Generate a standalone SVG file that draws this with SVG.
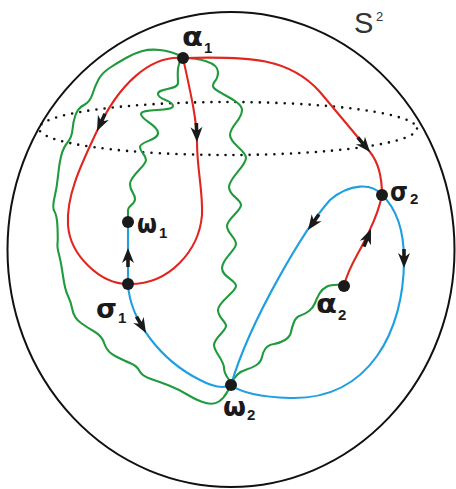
<svg xmlns="http://www.w3.org/2000/svg" xmlns:xlink="http://www.w3.org/1999/xlink" width="456" height="489" viewBox="0 0 456 489">
<style>
.c{fill:none;stroke-width:2.1;stroke-linecap:round;stroke-linejoin:round}
.r{stroke:#e0261e}.g{stroke:#1f9a3c}.b{stroke:#1f9fe0}
.dot{fill:#1a1a1a}
.lab{font-family:"DejaVu Sans","Liberation Sans",sans-serif;font-weight:bold;fill:#1a1a1a;font-size:26px}
.sub{font-family:"Liberation Sans",Arial,sans-serif;font-weight:bold;fill:#1a1a1a;font-size:15px}
.ah{fill:#1a1a1a}
</style>
<defs>
<path id="ah" d="M0,0 L-15,-6 L-10.5,0 L-15,6 Z M-10,-1.8 L-19,-1.8 L-19,1.8 L-10,1.8 Z"/>
</defs>
<g id="sphere">
<ellipse cx="231" cy="249.5" rx="223.5" ry="237.5" fill="none" stroke="#111" stroke-width="2"/>
<ellipse cx="228" cy="128.5" rx="189" ry="26.5" fill="none" stroke="#111" stroke-width="2.6" stroke-linecap="round" stroke-dasharray="0 8.2"/>
<text x="354" y="33" font-family="Liberation Sans,Arial,sans-serif" font-size="29" fill="#333">S</text>
<text x="376" y="21" font-family="Liberation Sans,Arial,sans-serif" font-size="13" fill="#333">2</text>
</g>
<g id="connectors">
<path class="c g" d="M181,56 Q170,51 160,50 T142.5,51 T126,58 T109.5,68 T98.5,79.5 T92.5,94 T84,105 T75.5,115 T72.5,129.5 T67.5,142.5 T61,156.5 T58,176 T54.5,197.5 T54.5,211.5 T57.5,227.5 T57.5,243.5 T59,254.5 T63,276 T68,296 T72.5,310 T81,323 T95,332 T104.5,344 T116,356.5 T131,363.5 T139.5,371 T151,379 T169,385.5 T188,395 T206,403 T219,401.5 T227.5,391.5 T231,385"/>
<path class="c g" d="M183,58 C176,64 178,76 178,83 S158,88 158,94 S173,100 173,106 S141,108 141,114 S158,125 158,133 S140,141 140,147 S146,154 146,160 S130,176 130,184 S135,193 135,199 S128,205 128,210 S128,216 128,222"/>
<path class="c g" d="M183,58 C198,58 218,62 218,72 S213,80 213,86 S242,100 242,110 S230,126 230,135 S246,150 246,158 S229,178 229,187 S241,199 241,205 S227,219 227,226 S236,238 236,244 S222,259 222,268 S236,280 236,286 S218,302 218,310 S226,321 226,326 S214,338 214,345 S224,360 224,368 S231,380 231,385"/>
<path class="c g" d="M343,285 Q332,284 327,286.5 T319.5,293.5 T315,303 T309,311 T300.5,315.5 T294,322 T291,332 T285,340 T274,344 T265.5,348.5 T262,357 T256.5,365 T246.5,369.5 T237.5,374.5 T232.5,381.5 T231,385"/>
<path class="c r" d="M183,58 C150,55 118,85 97,131 C82,163 66,195 68,225 C70,255 100,284 128,284"/>
<path class="c r" d="M183,58 C190,90 197,120 197,142 C197,170 203,190 202,215 C199,250 170,285 128,284"/>
<path class="c r" d="M183,58 C250,56 290,58 320,92 C335,110 352,130 370,152 C378,162 382,175 382,195"/>
<path class="c r" d="M382,195 C378,215 372,225 366,238 C358,255 348,268 344,286"/>
<path class="c b" d="M128,284 L128,222"/>
<path class="c b" d="M128,284 C130,320 160,360 200,380 C215,388 225,388 231,385"/>
<path class="c b" d="M382,195 C372,183 350,183 330,200 C305,228 250,320 231,385"/>
<path class="c b" d="M382,195 C398,210 404,235 404,260 C404,330 370,400 290,398 C260,397 240,392 231,385"/>
<use xlink:href="#ah" class="ah" transform="translate(97,131) rotate(115)"/>
<use xlink:href="#ah" class="ah" transform="translate(197,142) rotate(88)"/>
<use xlink:href="#ah" class="ah" transform="translate(370,152) rotate(50)"/>
<use xlink:href="#ah" class="ah" transform="translate(371,229) rotate(-68)"/>
<use xlink:href="#ah" class="ah" transform="translate(308,230) rotate(125)"/>
<use xlink:href="#ah" class="ah" transform="translate(404,268) rotate(90)"/>
<use xlink:href="#ah" class="ah" transform="translate(128,248) rotate(-90)"/>
<use xlink:href="#ah" class="ah" transform="translate(146,333) rotate(60)"/>
</g>
<g id="alpha1"><circle class="dot" cx="183" cy="58" r="6"/><text class="lab" x="182" y="46" textLength="21" lengthAdjust="spacingAndGlyphs">α</text><text class="sub" x="204" y="53">1</text></g>
<g id="omega1"><circle class="dot" cx="128" cy="222" r="6"/><text class="lab" x="137" y="233" textLength="20" lengthAdjust="spacingAndGlyphs">ω</text><text class="sub" x="159" y="238">1</text></g>
<g id="sigma1"><circle class="dot" cx="128" cy="284" r="6"/><text class="lab" x="96" y="318" textLength="21" lengthAdjust="spacingAndGlyphs">σ</text><text class="sub" x="118" y="323">1</text></g>
<g id="omega2"><circle class="dot" cx="231" cy="385" r="6"/><text class="lab" x="223" y="416" textLength="23" lengthAdjust="spacingAndGlyphs">ω</text><text class="sub" x="247" y="420">2</text></g>
<g id="sigma2"><circle class="dot" cx="382" cy="195" r="6"/><text class="lab" x="390" y="201" textLength="18" lengthAdjust="spacingAndGlyphs">σ</text><text class="sub" x="410" y="204">2</text></g>
<g id="alpha2"><circle class="dot" cx="344" cy="286" r="6"/><text class="lab" x="316" y="313" textLength="21" lengthAdjust="spacingAndGlyphs">α</text><text class="sub" x="338" y="320">2</text></g>
</svg>
